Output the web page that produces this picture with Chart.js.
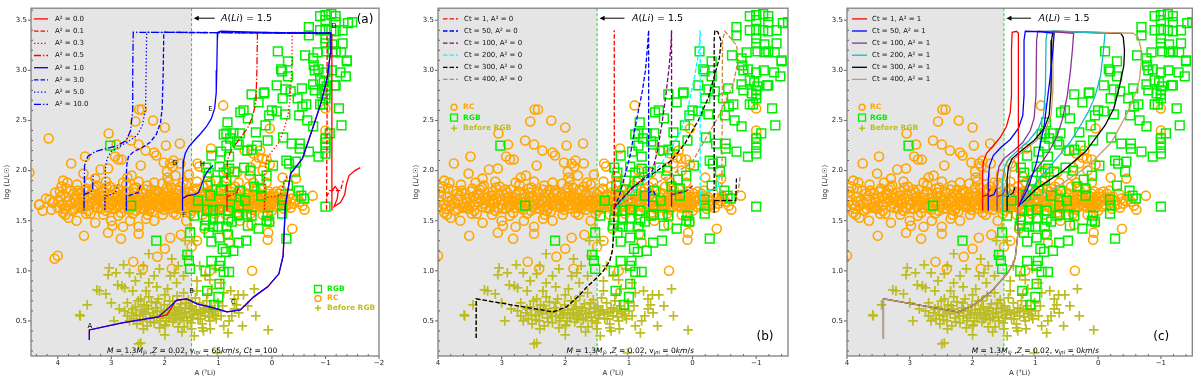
<!DOCTYPE html>
<html>
<head>
  <meta charset="utf-8">
  <title>Li evolution tracks</title>
  <script src="https://cdn.jsdelivr.net/npm/chart.js"></script>
  <style>
    body { margin: 0; background: #fff; }
    #wrap { position: relative; width: 1200px; height: 381px; overflow: hidden; }
    #wrap canvas { position: absolute; top: 0; }
  </style>
</head>
<body>
<div id="wrap">
  <canvas id="pa" width="400" height="381" style="left:0"></canvas>
  <canvas id="pb" width="400" height="381" style="left:400px"></canvas>
  <canvas id="pc" width="400" height="381" style="left:800px"></canvas>
</div>
<script>
// ---- axes ----
const xTicksA = [4, 3, 2, 1, 0, -1, -2];
const xTicksBC = [4, 3, 2, 1, 0, -1];
const yTicks = [0.5, 1.0, 1.5, 2.0, 2.5, 3.0, 3.5];
const liCut = 1.5;
const a2Values = [0.0, 0.1, 0.3, 0.5, 1.0, 3.0, 5.0, 10.0];
const ctValues = [1, 50, 100, 200, 300, 400];

// ---- observed stars: [A(Li), log L] ----
const rcStars = [
  [4.17,2.32],[4.53,1.98],[3.75,2.07],[3.52,1.97],[3.49,2.14],[3.20,2.01],[3.06,2.02],[3.05,2.37],[2.93,2.14],[2.87,2.11],
  [2.90,2.26],[2.81,2.11],[2.62,1.95],[2.63,2.30],[2.55,2.49],[2.48,2.61],[2.43,2.61],[2.49,2.26],[2.45,2.05],[2.36,2.20],
  [2.22,2.50],[2.20,2.18],[2.16,2.15],[2.00,2.43],[1.98,2.25],[2.02,2.08],[1.96,1.99],[1.90,2.07],[1.86,2.04],[1.84,2.10],
  [1.72,2.27],[1.71,2.07],[1.80,1.95],[1.95,1.93],[1.39,2.07],[1.36,2.04],[1.14,2.22],[0.91,2.65],[0.51,2.20],[0.35,2.17],
  [0.30,2.07],[0.22,2.20],[0.18,2.12],[0.17,2.00],[0.04,2.42],[0.04,2.06],[-1.00,2.62],[-1.00,2.40],[-1.00,2.33],[0.85,2.00],
  [0.65,1.98],[0.42,1.95],[-0.20,1.93],[-0.45,1.92],[2.70,1.93],[3.30,1.92],[3.90,1.90],[1.55,1.96],[1.20,1.94],[0.40,2.03],
  [0.25,2.13],[0.10,2.11],
  [4.35,1.66],[4.22,1.72],[4.12,1.61],[4.05,1.78],[3.98,1.69],[3.93,1.84],[3.90,1.58],[3.85,1.74],[3.80,1.65],[3.76,1.80],
  [3.72,1.60],[3.68,1.71],[3.64,1.86],[3.60,1.67],[3.57,1.77],[3.53,1.62],[3.50,1.73],[3.46,1.82],[3.42,1.66],[3.39,1.57],
  [3.35,1.76],[3.32,1.70],[3.28,1.85],[3.25,1.63],[3.21,1.74],[3.18,1.68],[3.14,1.79],[3.10,1.60],[3.07,1.72],[3.03,1.84],
  [3.00,1.66],[2.97,1.76],[2.93,1.62],[2.90,1.70],[2.86,1.81],[2.82,1.58],[2.79,1.73],[2.75,1.67],[2.72,1.86],[2.68,1.63],
  [2.65,1.77],[2.61,1.70],[2.58,1.82],[2.54,1.60],[2.51,1.74],[2.47,1.66],[2.44,1.79],[2.40,1.62],[2.37,1.71],[2.33,1.85],
  [2.30,1.65],[2.26,1.76],[2.23,1.59],[2.19,1.69],[2.16,1.80],[2.12,1.64],[2.09,1.73],[2.05,1.87],[2.02,1.61],[1.98,1.70],
  [1.95,1.78],[1.91,1.66],[1.88,1.83],[1.84,1.58],[1.81,1.72],[1.77,1.64],[1.74,1.80],[1.70,1.69],[1.67,1.61],[1.63,1.75],
  [1.60,1.86],[1.56,1.67],[1.53,1.73],[1.49,1.60],[1.46,1.79],[1.42,1.68],[1.39,1.63],[1.35,1.76],[1.32,1.71],[1.28,1.84],
  [1.25,1.65],[1.21,1.74],[1.18,1.59],[1.14,1.69],[1.11,1.81],[1.07,1.66],[1.04,1.75],[1.00,1.62],[0.96,1.71],[0.93,1.85],
  [0.89,1.67],[0.85,1.77],[0.82,1.60],[0.78,1.72],[0.75,1.82],[0.71,1.65],[0.68,1.74],[0.64,1.58],[0.60,1.69],[0.57,1.79],
  [0.53,1.63],[0.50,1.73],[0.46,1.66],[0.43,1.84],[0.39,1.70],[0.36,1.61],[0.32,1.76],[0.28,1.67],[0.25,1.72],[0.21,1.81],
  [0.18,1.63],[0.14,1.70],[0.10,1.77],[0.07,1.65],[0.03,1.74],[0.00,1.60],[-0.04,1.69],[-0.08,1.79],[-0.12,1.66],[-0.17,1.73],
  [-0.22,1.62],[-0.27,1.70],[-0.33,1.77],[-0.40,1.67],[-0.48,1.74],[-0.57,1.65],
  [4.00,1.63],[3.83,1.69],[3.70,1.77],[3.55,1.68],[3.44,1.74],[3.30,1.64],[3.20,1.70],[3.12,1.67],[2.95,1.69],[2.84,1.66],
  [2.70,1.72],[2.60,1.65],[2.49,1.70],[2.42,1.68],[2.32,1.73],[2.21,1.66],[2.10,1.70],[2.00,1.67],[1.90,1.72],[1.80,1.67],
  [1.72,1.72],[1.62,1.69],[1.51,1.65],[1.44,1.72],[1.33,1.67],[1.23,1.70],[1.13,1.73],[1.02,1.68],[0.91,1.63],[0.80,1.69],
  [0.70,1.70],[0.62,1.65],[0.52,1.68],[0.41,1.73],[0.30,1.64],[0.20,1.69],[0.12,1.66],[0.02,1.70],[-0.10,1.72],[-0.20,1.68],
  [3.95,1.74],[3.62,1.63],[3.37,1.69],[3.05,1.63],[2.77,1.63],[2.55,1.69],[2.28,1.70],[2.07,1.63],[1.86,1.69],[1.65,1.66],
  [1.40,1.66],[1.20,1.63],[0.98,1.67],[0.73,1.67],[0.48,1.69],[0.26,1.71],[0.05,1.67],[4.34,1.66],[4.15,1.71],
  [3.88,1.62],[3.78,1.71],[3.66,1.75],[3.58,1.64],[3.48,1.79],[3.40,1.72],[3.34,1.81],[3.27,1.67],[3.16,1.75],[3.09,1.83],
  [3.01,1.71],[2.91,1.78],[2.88,1.64],[2.80,1.69],[2.73,1.79],[2.66,1.61],[2.63,1.73],[2.56,1.78],[2.52,1.64],[2.45,1.73],
  [2.38,1.65],[2.35,1.81],[2.27,1.62],[2.24,1.72],[2.18,1.77],[2.14,1.67],[2.06,1.76],[2.03,1.69],[1.97,1.65],[1.93,1.74],
  [1.87,1.77],[1.82,1.63],[1.78,1.81],[1.73,1.66],[1.69,1.77],[1.64,1.70],[1.58,1.63],[1.55,1.79],[1.48,1.70],[1.43,1.62],
  [1.37,1.73],[1.31,1.64],[1.27,1.78],[1.22,1.67],[1.16,1.77],[1.09,1.71],[1.05,1.64],[0.99,1.79],[0.94,1.69],[0.87,1.74],
  [0.83,1.66],[0.77,1.79],[0.72,1.62],[0.66,1.77],[0.59,1.73],[0.55,1.66],[0.47,1.77],[0.44,1.62],[0.37,1.67],[0.33,1.82],
  [0.27,1.75],[0.22,1.65],[0.16,1.76],[0.11,1.63],[0.06,1.79],[0.01,1.66],[-0.06,1.74],[-0.14,1.77],[-0.24,1.74],[-0.30,1.66],
  [-0.37,1.72],
  [4.28,1.60],[4.10,1.68],[3.96,1.79],[3.91,1.66],[3.84,1.82],[3.74,1.67],[3.69,1.62],[3.63,1.80],[3.56,1.72],[3.51,1.65],
  [3.43,1.60],[3.38,1.77],[3.31,1.83],[3.24,1.72],[3.19,1.62],[3.13,1.71],[3.06,1.77],[2.99,1.62],[2.94,1.81],[2.89,1.74],
  [2.83,1.70],[2.77,1.76],[2.71,1.65],[2.64,1.68],[2.57,1.73],[2.53,1.83],[2.46,1.62],[2.41,1.77],[2.34,1.69],[2.29,1.60],
  [2.25,1.81],[2.20,1.73],[2.13,1.78],[2.08,1.66],[2.01,1.74],[1.96,1.83],[1.92,1.62],[1.85,1.73],[1.79,1.69],[1.75,1.62],
  [1.71,1.84],[1.66,1.73],[1.61,1.64],[1.57,1.71],[1.50,1.77],[1.45,1.66],[1.41,1.82],[1.36,1.69],[1.29,1.74],[1.24,1.60],
  [1.19,1.79],[1.12,1.65],[1.06,1.81],[1.01,1.71],[0.95,1.64],[0.90,1.76],[0.84,1.70],[0.79,1.64],[0.74,1.74],[0.69,1.84],
  [0.63,1.71],[0.58,1.62],[0.51,1.78],[0.45,1.70],[0.38,1.63],[0.34,1.71],[0.29,1.80],[0.23,1.69],[0.17,1.67],[0.12,1.74],
  [0.08,1.69],[0.04,1.63],[-0.02,1.77],[-0.07,1.64],[-0.15,1.70],[-0.18,1.80],[-0.26,1.65],[-0.35,1.63],[-0.44,1.70],[-0.52,1.69],
  [3.86,1.56],[3.47,1.57],[3.15,1.56],[2.87,1.55],[2.60,1.57],[2.32,1.56],[2.04,1.56],[1.79,1.56],[1.52,1.57],[1.30,1.56],
  [1.06,1.57],[0.86,1.56],[0.62,1.56],[0.40,1.57],[0.17,1.56],
  [3.82,1.88],[3.41,1.88],[3.10,1.89],[2.78,1.88],[2.49,1.89],[2.20,1.88],[1.93,1.89],[1.66,1.88],[1.40,1.89],[1.15,1.88],
  [0.88,1.89],[0.62,1.88],[0.35,1.88],[0.10,1.88],
  [3.51,1.35],[3.06,1.38],[3.00,1.50],[2.98,1.45],[2.82,1.32],[2.78,1.44],[2.49,1.37],[2.49,1.44],[2.59,1.09],[2.41,1.02],
  [4.00,1.15],[4.06,1.12],[2.20,1.50],[2.00,1.22],[1.87,1.02],[2.14,1.14],[1.50,1.24],[1.90,1.33],[1.70,1.36],[1.26,1.42],
  [0.84,1.37],[0.80,1.28],[0.37,1.00],[1.16,1.00],[0.07,1.38],[0.08,1.31],[-0.38,1.42],[-0.61,1.61],[-0.76,1.75],[0.05,1.48],
  [0.38,1.46],[3.65,1.50],[3.30,1.48],[2.65,1.50],[1.60,1.50],[1.10,1.52],[0.60,1.50],[1.40,1.30],[2.35,1.52],[3.80,1.53]
];
const rgbStars = [
  [-0.90,3.54],[-1.00,3.55],[-1.11,3.56],[-1.19,3.54],[-1.00,3.50],[-1.19,3.48],[-1.42,3.47],[-1.50,3.48],[-0.69,3.43],[-0.69,3.35],
  [-0.90,3.40],[-1.00,3.40],[-1.11,3.40],[-1.19,3.39],[-1.32,3.40],[-1.00,3.32],[-1.00,3.27],[-1.13,3.26],[-1.32,3.27],[-0.85,3.18],
  [-1.02,3.19],[-1.13,3.18],[-1.19,3.19],[-1.29,3.18],[-0.77,3.12],[-0.80,3.00],[-0.87,3.01],[-1.00,2.98],[-1.12,3.00],[-1.28,2.98],
  [-1.40,3.09],[-0.90,2.90],[-0.97,2.88],[-1.02,2.84],[-1.19,2.85],[-0.77,2.86],[-0.80,2.80],[-0.93,2.77],[-1.00,2.80],[-1.00,2.76],
  [-1.00,2.72],[-0.95,2.66],[-0.90,2.66],[-0.64,2.66],[-0.56,2.82],[-0.48,2.72],[-0.35,2.79],[-0.09,2.85],[-0.30,3.09],[-0.19,2.99],
  [-0.30,2.94],[-0.11,3.19],[0.15,2.77],[0.25,2.68],[-0.25,2.81],[-0.20,2.72],[-0.57,2.64],[-0.09,2.59],[-0.25,2.56],[-0.51,2.55],
  [-0.66,2.50],[-0.77,2.44],[-0.21,2.33],[-0.37,2.27],[-0.52,2.27],[-0.69,2.19],[-0.52,2.22],[-0.87,2.14],[-1.00,2.17],[-1.00,2.23],
  [-1.00,2.28],[-1.00,2.32],[-1.08,2.37],[-0.27,2.10],[-0.32,2.07],[-0.45,2.09],[-0.43,1.99],[0.23,1.91],[-1.17,2.85],[-1.38,2.94],
  [-1.40,3.10],[-1.25,2.62],[-1.30,2.45],[-0.78,3.05],[-0.62,3.15],
  [0.53,2.60],[0.83,2.48],[0.85,2.37],[0.72,2.37],[0.60,2.37],[0.85,2.25],[0.62,2.26],[0.65,2.29],[0.95,2.19],[0.80,2.14],
  [1.13,2.15],[1.23,2.03],[1.18,1.98],[0.98,2.04],[0.90,1.98],[0.80,2.02],[0.70,1.99],[0.52,2.03],[0.40,2.00],[0.46,2.20],
  [0.38,2.21],[0.90,2.36],[0.78,2.32],[0.28,2.25],[0.08,2.30],[-0.02,2.05],[0.10,1.95],[0.45,2.52],[0.30,2.38],[0.05,2.55],
  [0.38,2.76],[0.59,2.58],[0.14,2.78],[0.00,2.60],[0.12,2.45],[-0.17,3.01],
  [1.21,1.61],[1.10,1.60],[0.98,1.61],[0.82,1.60],[1.23,1.51],[1.10,1.51],[0.98,1.52],[0.82,1.51],[0.75,1.49],[1.25,1.45],
  [1.53,1.38],[1.10,1.44],[1.18,1.38],[1.00,1.44],[0.85,1.44],[1.13,1.29],[0.98,1.33],[0.82,1.36],[0.92,1.22],[0.86,1.19],
  [0.96,1.10],[0.98,1.05],[1.13,1.10],[1.24,1.00],[0.90,0.99],[0.80,0.99],[1.21,0.80],[0.98,0.87],[1.00,0.74],[1.08,0.66],
  [2.16,1.30],[1.55,1.10],[1.53,1.02],[3.02,2.25],[2.63,1.65],[1.58,1.16],
  [0.33,1.84],[0.20,1.82],[-0.19,1.71],[-0.19,1.65],[-0.19,1.57],[0.38,1.55],[0.10,1.50],[0.05,1.49],[0.25,1.42],[-0.27,1.32],
  [-1.00,1.64],[0.62,1.28],[0.62,1.65],[0.50,1.70],[0.75,1.75],[0.95,1.80],[1.15,1.75],[1.20,1.85],[1.05,1.90],[0.85,1.90],
  [0.60,1.80],[-0.30,1.85],[-0.50,1.80],[-0.55,1.75],[-0.60,1.72],[0.20,1.75],[0.65,1.55],[0.45,1.45],[0.48,1.30],[0.72,1.20],
  [0.61,1.56],[0.47,1.56],[0.08,1.55],[1.45,1.55],[1.38,1.70]
];
const preRgbStars = [
  [2.30,1.17],[2.77,1.06],[3.04,1.03],[2.91,0.98],[3.06,0.96],[2.66,0.98],[2.80,0.85],[2.88,0.86],[2.75,0.83],[2.45,0.97],
  [2.30,0.88],[3.27,0.81],[3.22,0.80],[3.10,0.77],[3.45,0.66],[3.59,0.56],[3.58,0.55],[2.49,0.27],[2.45,0.28],[1.53,1.43],
  [1.87,1.12],[1.75,1.05],[1.82,0.98],[1.90,0.95],[1.78,0.88],[1.16,0.91],[0.63,0.76],[0.53,0.76],[0.66,0.66],[0.62,0.58],
  [1.28,0.40],[1.68,0.39],[2.00,0.36],[0.33,0.82],[0.07,0.41],[0.77,0.80],[0.70,0.72],[0.70,0.62],[0.75,0.55],[0.80,0.50],
  [0.82,0.38],[1.02,0.18],[1.45,1.30],[1.60,1.15],[1.35,1.05],[1.25,0.95],[1.05,1.02],[2.10,1.02],[2.20,0.95],[2.55,0.90],
  [2.60,0.80],[2.35,0.80],[2.15,0.84],[1.95,0.82],[2.40,1.05],[1.40,0.90],[1.12,0.82],[0.90,0.78],[0.95,0.88],[1.65,0.95],
  [2.00,0.45],[1.45,0.35],[1.15,0.42],[2.70,0.55],[2.85,0.62],[3.00,0.68],[2.95,0.50],[0.45,0.65],[0.55,0.45],[0.30,0.55],
  [0.90,0.45],[1.62,1.30],
  [2.62,0.58],[2.58,0.52],[2.55,0.64],[2.52,0.47],[2.50,0.70],[2.47,0.55],[2.44,0.61],[2.41,0.50],[2.39,0.66],[2.36,0.57],
  [2.33,0.45],[2.31,0.62],[2.28,0.53],[2.25,0.69],[2.23,0.58],[2.20,0.48],[2.17,0.63],[2.15,0.55],[2.12,0.72],[2.09,0.50],
  [2.07,0.60],[2.04,0.56],[2.01,0.66],[1.99,0.46],[1.96,0.61],[1.93,0.53],[1.91,0.70],[1.88,0.58],[1.85,0.49],[1.83,0.64],
  [1.80,0.55],[1.77,0.75],[1.75,0.60],[1.72,0.51],[1.70,0.67],[1.67,0.57],[1.64,0.44],[1.62,0.62],[1.59,0.54],[1.56,0.71],
  [1.54,0.59],[1.51,0.48],[1.49,0.65],[1.46,0.56],[1.43,0.73],[1.41,0.61],[1.38,0.52],[1.35,0.68],[1.33,0.58],[1.30,0.47],
  [1.28,0.63],[1.25,0.55],[1.22,0.70],[1.19,0.60],[1.16,0.50],[1.13,0.65],[1.10,0.57],[1.07,0.62],[1.04,0.52],[1.01,0.68],
  [2.60,0.62],[2.53,0.56],[2.46,0.51],[2.40,0.59],[2.34,0.65],[2.27,0.49],[2.21,0.55],[2.14,0.60],[2.08,0.53],[2.02,0.58],
  [1.97,0.50],[1.92,0.56],[1.87,0.62],[1.82,0.52],[1.78,0.57],[1.73,0.63],[1.68,0.53],[1.63,0.58],[1.58,0.50],[1.53,0.63],
  [1.48,0.53],[1.44,0.60],[1.39,0.57],[1.34,0.52],[1.29,0.59],[1.24,0.62],[1.18,0.54],[1.12,0.59],[1.06,0.55],
  [2.75,0.60],[2.70,0.68],[2.66,0.50],[2.30,0.74],[2.00,0.76],[1.65,0.78],[1.40,0.80],[1.20,0.77],[1.60,0.68],[1.85,0.70],
  [2.15,0.68],[2.45,0.72],[1.50,0.42],[1.75,0.44],[2.10,0.43],[2.40,0.42],[1.30,0.43],[1.00,0.60],[0.95,0.55],[0.92,0.65]
];

// ---- panel (a): Ct = 100, varying A^2 ----
const preBlueA = [[3.41,0.31],[3.41,0.41],[2.80,0.48],[2.12,0.54],[1.95,0.62],[1.77,0.71],[1.59,0.72],[1.40,0.67],[1.09,0.63],[0.84,0.59],[0.59,0.61],[0.34,0.74],[0.08,0.84],[-0.13,0.97],[-0.21,1.15],[-0.23,1.40],[-0.25,1.65],[-0.35,1.97],[-0.57,2.12],[-0.76,2.42],[-0.92,2.68],[-1.04,2.94],[-1.09,3.17],[-1.10,3.37]];
const preRedA = [[3.41,0.31],[3.41,0.41],[2.80,0.48],[2.12,0.54],[1.96,0.56],[1.80,0.70],[1.59,0.72],[1.40,0.67],[1.09,0.63],[0.84,0.59],[0.59,0.61],[0.34,0.74],[0.08,0.84],[-0.13,0.97],[-0.21,1.15],[-0.23,1.40],[-0.25,1.65],[-0.35,1.97],[-0.57,2.12],[-0.76,2.42],[-0.92,2.68],[-1.04,2.94],[-1.09,3.17],[-1.10,3.37]];
const a2Track00 = [[-1.12,3.36],[-1.12,1.60],[-1.12,1.80],[-1.18,1.84],[-1.24,1.80],[-1.22,1.72],[-1.16,1.64],[-1.28,1.68],[-1.36,1.76],[-1.39,1.86],[-1.44,1.95],[-1.55,2.00],[-1.65,2.03]];
const a2Track01 = [[-1.10,3.37],[-1.03,3.37],[-1.03,2.60],[-1.02,1.60],[-1.02,1.74],[-1.08,1.80],[-1.18,1.80],[-1.28,1.80],[-1.33,1.90]];
const a2Track03 = [[-1.10,3.37],[-0.38,3.38],[-0.37,3.00],[-0.34,2.72],[-0.30,2.55],[-0.22,2.40],[-0.12,2.27],[0.00,2.19],[0.08,2.13],[0.12,2.03],[0.14,1.90],[0.14,1.60],[0.14,1.72],[0.04,1.74],[-0.08,1.74],[-0.16,1.76],[-0.20,1.84],[-0.28,1.95]];
const a2Track05 = [[-1.10,3.37],[0.27,3.38],[0.28,3.00],[0.30,2.68],[0.36,2.54],[0.45,2.43],[0.58,2.33],[0.70,2.25],[0.78,2.18],[0.83,2.10],[0.84,1.95],[0.84,1.60],[0.84,1.74],[0.74,1.76],[0.65,1.78],[0.62,1.86]];
const a2Track10 = [[-1.10,3.37],[0.00,3.375],[0.95,3.39],[1.01,3.38],[1.02,3.30],[1.03,3.00],[1.04,2.78],[1.07,2.62],[1.13,2.52],[1.22,2.44],[1.33,2.37],[1.45,2.30],[1.55,2.24],[1.62,2.17],[1.65,2.10],[1.66,2.00],[1.67,1.85],[1.67,1.60],[1.67,1.72],[1.58,1.75],[1.45,1.76],[1.37,1.78],[1.32,1.85],[1.26,1.94],[1.18,2.01],[1.10,2.05]];
const a2Track30 = [[-1.10,3.37],[2.02,3.38],[2.03,3.00],[2.05,2.62],[2.08,2.48],[2.16,2.36],[2.28,2.28],[2.42,2.23],[2.58,2.19],[2.68,2.14],[2.71,2.06],[2.72,1.95],[2.72,1.60],[2.72,1.74],[2.62,1.76],[2.50,1.78],[2.45,1.86]];
const a2Track50 = [[-1.10,3.37],[2.34,3.38],[2.35,3.00],[2.36,2.62],[2.42,2.45],[2.52,2.35],[2.68,2.29],[2.85,2.24],[3.00,2.19],[3.08,2.12],[3.11,2.02],[3.12,1.60],[3.12,1.74],[3.02,1.76],[2.92,1.78],[2.88,1.86]];
const a2Track100 = [[-1.10,3.37],[2.59,3.38],[2.60,3.00],[2.60,2.60],[2.64,2.40],[2.72,2.30],[2.88,2.25],[3.10,2.22],[3.30,2.19],[3.44,2.14],[3.50,2.05],[3.51,1.60],[3.51,1.76],[3.42,1.78],[3.35,1.80],[3.34,1.95]];

// ---- panel (b): A^2 = 0, varying Ct ----
const preB = [[3.40,0.33],[3.40,0.72],[2.19,0.59],[1.98,0.64],[1.80,0.74],[1.66,0.84],[1.52,0.92],[1.40,1.00],[1.30,1.10],[1.26,1.20],[1.24,1.36],[1.23,1.63]];
const ct1B = [[1.23,1.63],[1.23,3.40]];
const ct50B = [[1.23,1.63],[1.15,1.75],[1.08,1.91],[0.98,2.15],[0.92,2.37],[0.85,2.60],[0.79,2.79],[0.74,3.00],[0.71,3.22],[0.69,3.40],[0.69,1.64],[0.69,1.78],[0.62,1.80],[0.58,1.75]];
const ct100B = [[1.23,1.63],[1.05,1.76],[0.85,1.88],[0.63,2.00],[0.55,2.20],[0.48,2.47],[0.42,2.75],[0.37,3.02],[0.34,3.25],[0.33,3.40],[0.33,1.64],[0.33,1.76],[0.20,1.78],[0.08,1.80],[0.00,1.85]];
const ct200B = [[1.23,1.63],[1.00,1.75],[0.72,1.92],[0.50,2.06],[0.33,2.23],[0.18,2.40],[0.08,2.60],[-0.04,2.96],[-0.10,3.20],[-0.12,3.40],[-0.12,1.64],[-0.12,1.78],[-0.25,1.80],[-0.40,1.82],[-0.42,1.95]];
const ct300B = [[1.23,1.63],[0.93,1.84],[0.60,1.98],[0.33,2.10],[0.12,2.27],[-0.09,2.50],[-0.25,2.73],[-0.35,2.96],[-0.42,3.12],[-0.45,3.29],[-0.40,3.38],[-0.35,3.40],[-0.34,3.30],[-0.34,1.58],[-0.34,1.70],[-0.50,1.70],[-0.68,1.70],[-0.69,1.92]];
const ct400B = [[1.23,1.63],[0.85,1.76],[0.45,1.92],[0.02,2.07],[-0.19,2.30],[-0.40,2.53],[-0.64,2.86],[-0.72,3.12],[-0.69,3.25],[-0.51,3.39],[-0.47,3.30],[-0.46,1.62],[-0.46,1.75],[-0.58,1.77],[-0.72,1.80],[-0.75,1.95]];

// ---- panel (c): A^2 = 1, varying Ct ----
const preC = [[3.42,0.32],[3.42,0.72],[2.23,0.59],[2.03,0.64],[1.85,0.72],[1.71,0.79],[1.58,0.88],[1.45,0.97],[1.36,1.06],[1.32,1.13],[1.28,1.36],[1.27,1.64]];
const ct1C = [[1.27,1.64],[1.27,3.37],[1.30,3.39],[1.37,3.38],[1.38,3.20],[1.38,2.75],[1.40,2.58],[1.46,2.44],[1.56,2.33],[1.68,2.24],[1.78,2.17],[1.83,2.08],[1.84,1.95],[1.84,1.60],[1.84,1.74],[1.76,1.76],[1.72,1.82]];
const ct50C = [[1.27,1.64],[1.12,1.82],[0.98,2.08],[0.86,2.45],[0.77,2.90],[0.72,3.20],[0.70,3.37],[0.90,3.385],[1.16,3.39],[1.18,3.30],[1.18,2.75],[1.20,2.55],[1.27,2.42],[1.40,2.31],[1.55,2.23],[1.67,2.15],[1.73,2.05],[1.75,1.90],[1.75,1.60],[1.75,1.74],[1.66,1.76],[1.62,1.82]];
const ct100C = [[1.27,1.64],[1.09,1.93],[0.90,2.08],[0.78,2.19],[0.65,2.35],[0.57,2.51],[0.49,2.75],[0.44,3.00],[0.41,3.20],[0.39,3.37],[0.70,3.385],[0.96,3.39],[0.98,3.30],[0.99,2.75],[1.02,2.52],[1.08,2.40],[1.20,2.28],[1.36,2.19],[1.50,2.12],[1.58,2.04],[1.61,1.92],[1.61,1.60],[1.61,1.74],[1.52,1.76],[1.48,1.82]];
const ct200C = [[1.27,1.64],[0.98,1.89],[0.80,2.02],[0.62,2.15],[0.45,2.28],[0.31,2.42],[0.16,2.58],[0.05,2.74],[-0.04,2.95],[-0.08,3.17],[-0.11,3.37],[0.40,3.385],[0.81,3.39],[0.83,3.30],[0.84,2.80],[0.87,2.55],[0.95,2.42],[1.10,2.30],[1.28,2.20],[1.42,2.12],[1.49,2.03],[1.52,1.92],[1.52,1.60],[1.52,1.74],[1.43,1.76],[1.40,1.82]];
const ct300C = [[1.27,1.64],[0.98,1.82],[0.57,1.99],[0.20,2.19],[-0.11,2.45],[-0.25,2.62],[-0.34,2.84],[-0.41,3.05],[-0.42,3.20],[-0.40,3.33],[-0.36,3.37],[0.20,3.38],[0.72,3.39],[0.74,3.30],[0.75,2.80],[0.78,2.55],[0.86,2.42],[1.02,2.30],[1.22,2.20],[1.37,2.12],[1.43,2.03],[1.45,1.92],[1.45,1.60],[1.45,1.74],[1.36,1.77],[1.32,1.84]];
const ct400C = [[1.27,1.64],[0.62,1.85],[0.15,2.05],[-0.21,2.28],[-0.47,2.58],[-0.60,2.78],[-0.66,2.91],[-0.69,3.10],[-0.68,3.22],[-0.64,3.33],[-0.56,3.37],[0.10,3.38],[0.70,3.39],[0.72,3.30],[0.72,2.80],[0.75,2.55],[0.83,2.42],[0.98,2.30],[1.18,2.20],[1.33,2.12],[1.39,2.03],[1.41,1.92],[1.41,1.60],[1.41,1.74],[1.33,1.77],[1.30,1.84]];

// ---- styling ----
const FONT = 'DejaVu Sans';
const ORANGE = '#ffa500', LIME = '#00ee00', OLIVE = '#bcbd22';
const dashes = { solid: [], dashed: [4.5, 2], dotted: [1.3, 2.2], dashdot: [7, 2, 1.3, 2] };
const ctColorsB = ['#ff0000', '#0000ff', '#800080', '#00ffff', '#000000', '#cd853f'];
const ctColorsC = ['#ff0000', '#0000ff', '#883399', '#17b8c8', '#000000', '#c89b6d'];

Chart.defaults.font.family = FONT;
Chart.defaults.font.size = 7;
Chart.defaults.color = '#222';

function lineSet(data, color, dash, order) {
  return { type: 'scatter', data, showLine: true, pointRadius: 0, borderColor: color,
    borderWidth: 1.3, borderDash: dashes[dash], tension: 0, fill: false, order };
}

function starSets() {
  return [
    { type: 'scatter', data: rcStars, pointStyle: 'circle', pointRadius: 4.5, pointBorderWidth: 1.6,
      pointBorderColor: ORANGE, pointBackgroundColor: 'rgba(0,0,0,0)', order: 30 },
    { type: 'scatter', data: preRgbStars, pointStyle: 'cross', pointRadius: 4.8, pointBorderWidth: 1.7,
      pointBorderColor: OLIVE, pointBackgroundColor: OLIVE, order: 20 },
    { type: 'scatter', data: rgbStars, pointStyle: 'rect', pointRadius: 6.2, pointBorderWidth: 1.5,
      pointBorderColor: LIME, pointBackgroundColor: 'rgba(0,0,0,0)', order: 10 }
  ];
}

function drawRich(ctx, parts, x, y, size, align) {
  const fontFor = st => {
    const s = (st === 'sub' || st === 'sup') ? size * 0.7 : size;
    const it = (st === 'i' || st === 'sub') ? 'italic ' : '';
    return `${it}${s}px "${FONT}"`;
  };
  let w = 0;
  parts.forEach(([t, st]) => { ctx.font = fontFor(st); w += ctx.measureText(t).width; });
  let cx = align === 'center' ? x - w / 2 : x;
  ctx.textAlign = 'left';
  ctx.textBaseline = 'alphabetic';
  parts.forEach(([t, st]) => {
    ctx.font = fontFor(st);
    const dy = st === 'sub' ? size * 0.25 : st === 'sup' ? -size * 0.4 : 0;
    ctx.fillText(t, cx, y + dy);
    cx += ctx.measureText(t).width;
  });
}

function drawMarker(ctx, kind, x, y) {
  ctx.beginPath();
  if (kind === 'rc') { ctx.strokeStyle = ORANGE; ctx.lineWidth = 1.4; ctx.arc(x, y, 3, 0, Math.PI * 2); }
  else if (kind === 'rgb') { ctx.strokeStyle = LIME; ctx.lineWidth = 1.3; ctx.rect(x - 3.5, y - 3.5, 7, 7); }
  else { ctx.strokeStyle = OLIVE; ctx.lineWidth = 1.5; ctx.moveTo(x - 3, y); ctx.lineTo(x + 3, y); ctx.moveTo(x, y - 3); ctx.lineTo(x, y + 3); }
  ctx.stroke();
}

const starLabels = { rc: ['RC', ORANGE], rgb: ['RGB', LIME], pre: ['Before RGB', OLIVE] };

function decoPlugin(cfg) {
  return {
    id: 'deco',
    beforeDatasetsDraw(chart) {
      const { ctx, chartArea: a, scales: { x } } = chart;
      const xc = x.getPixelForValue(liCut);
      ctx.save();
      ctx.fillStyle = '#e5e5e5';
      ctx.fillRect(a.left, a.top, xc - a.left, a.bottom - a.top);
      ctx.strokeStyle = '#2ecc2e';
      ctx.lineWidth = 1;
      ctx.setLineDash([3, 2]);
      ctx.beginPath(); ctx.moveTo(xc, a.top); ctx.lineTo(xc, a.bottom); ctx.stroke();
      ctx.restore();
    },
    afterDatasetsDraw(chart) {
      const { ctx, chartArea: a, scales: { x, y } } = chart;
      ctx.save();
      // ticks
      ctx.strokeStyle = '#333';
      ctx.lineWidth = 0.8;
      ctx.beginPath();
      cfg.xTicks.forEach(v => { const p = x.getPixelForValue(v); ctx.moveTo(p, a.bottom); ctx.lineTo(p, a.bottom + 3); });
      yTicks.forEach(v => { const p = y.getPixelForValue(v); ctx.moveTo(a.left, p); ctx.lineTo(a.left - 3, p); });
      for (let k = Math.ceil(x.min * 5); k <= Math.floor(x.max * 5); k++) {
        if (k % 5 === 0) continue;
        const p = x.getPixelForValue(k / 5); ctx.moveTo(p, a.bottom); ctx.lineTo(p, a.bottom - 2);
      }
      for (let k = Math.ceil(y.min * 10); k <= Math.floor(y.max * 10); k++) {
        if (k % 5 === 0) continue;
        const p = y.getPixelForValue(k / 10); ctx.moveTo(a.left, p); ctx.lineTo(a.left + 2, p);
      }
      ctx.stroke();
      // frame
      ctx.strokeStyle = '#808080';
      ctx.lineWidth = 1.3;
      ctx.strokeRect(a.left, a.top, a.right - a.left, a.bottom - a.top);

      // arrow and A(Li) = 1.5
      ctx.fillStyle = '#000';
      ctx.strokeStyle = '#000';
      ctx.lineWidth = 1;
      const ay = a.top + 10;
      const ax0 = x.getPixelForValue(1.07), ax1 = x.getPixelForValue(1.46);
      ctx.beginPath(); ctx.moveTo(ax0, ay); ctx.lineTo(ax1 + 3, ay); ctx.stroke();
      ctx.beginPath(); ctx.moveTo(ax1, ay); ctx.lineTo(ax1 + 5, ay - 2.5); ctx.lineTo(ax1 + 5, ay + 2.5); ctx.closePath(); ctx.fill();
      drawRich(ctx, [['A', 'i'], ['(', 'n'], ['Li', 'i'], [') = 1.5', 'n']], x.getPixelForValue(0.95), a.top + 13, 9.5, 'left');

      // bottom note
      drawRich(ctx, cfg.note, x.getPixelForValue(cfg.noteAt), a.bottom - 3.5, 7.5, 'center');

      // panel tag
      ctx.font = `12px "${FONT}"`;
      ctx.textAlign = 'center';
      ctx.textBaseline = 'middle';
      ctx.fillStyle = '#000';
      if (cfg.tagTop) ctx.fillText(cfg.tag, a.right - 14, a.top + 12);
      else ctx.fillText(cfg.tag, a.right - cfg.tagDx, a.bottom - 19);

      // track letters
      ctx.font = `7px "${FONT}"`;
      (cfg.letters || []).forEach(([t, lx, ly]) => ctx.fillText(t, x.getPixelForValue(lx), y.getPixelForValue(ly)));

      // line legend
      const L = cfg.lineLegend;
      L.items.forEach((it, i) => {
        const ry = a.top + L.y0 + i * L.dy;
        ctx.strokeStyle = it.color;
        ctx.lineWidth = 1.3;
        ctx.setLineDash(dashes[it.dash]);
        ctx.beginPath(); ctx.moveTo(a.left + L.x0, ry); ctx.lineTo(a.left + L.x1, ry); ctx.stroke();
        ctx.setLineDash([]);
        ctx.fillStyle = '#111';
        ctx.font = `7px "${FONT}"`;
        ctx.textAlign = 'left';
        ctx.textBaseline = 'middle';
        ctx.fillText(it.label, a.left + L.tx, ry);
      });

      // star legend
      const S = cfg.starLegend;
      S.order.forEach((k, i) => {
        const mx = S.fromRight ? a.right - S.mx : a.left + S.mx;
        const tx = S.fromRight ? a.right - S.tx : a.left + S.tx;
        const ry = S.fromBottom ? a.bottom - S.y0 + i * S.dy : a.top + S.y0 + i * S.dy;
        drawMarker(ctx, k, mx, ry);
        ctx.fillStyle = starLabels[k][1];
        ctx.font = `bold 7.5px "${FONT}"`;
        ctx.textAlign = 'left';
        ctx.textBaseline = 'middle';
        ctx.fillText(starLabels[k][0], tx, ry);
      });
      ctx.restore();
    }
  };
}

function buildPanel(cfg) {
  const fmtX = v => (v < 0 ? '\u2212' + Math.abs(v) : String(v));
  new Chart(document.getElementById(cfg.id), {
    type: 'scatter',
    data: { datasets: starSets().concat(cfg.tracks) },
    options: {
      responsive: false,
      animation: false,
      devicePixelRatio: 1,
      events: [],
      layout: { padding: cfg.pad },
      plugins: { legend: { display: false }, tooltip: { enabled: false } },
      scales: {
        x: {
          type: 'linear', reverse: true, min: cfg.xMin, max: cfg.xMax,
          grid: { display: false, drawTicks: false }, border: { display: false },
          afterBuildTicks: s => { s.ticks = cfg.xTicks.map(v => ({ value: v })); },
          afterFit: s => { s.height = 25; },
          ticks: { autoSkip: false, maxRotation: 0, padding: 3, callback: v => fmtX(v) },
          title: { display: true, text: 'A (\u2077Li)', font: { size: 7 }, padding: { top: 0, bottom: 3.5 } }
        },
        y: {
          type: 'linear', min: 0.15, max: 3.62,
          grid: { display: false, drawTicks: false }, border: { display: false },
          afterBuildTicks: s => { s.ticks = yTicks.map(v => ({ value: v })); },
          afterFit: s => { s.width = cfg.yW; },
          ticks: { padding: 4, callback: v => v.toFixed(1) },
          title: { display: true, text: 'log (L/L\u2609)', font: { size: 7 }, padding: { top: 0, bottom: 0 } }
        }
      }
    },
    plugins: [decoPlugin(cfg)]
  });
}

const a2Dash = ['solid', 'dashed', 'dotted', 'dashdot', 'solid', 'dashed', 'dotted', 'dashdot'];
const a2Color = ['#ff0000', '#ff0000', '#ff0000', '#ff0000', '#0000ff', '#0000ff', '#0000ff', '#0000ff'];

buildPanel({
  id: 'pa', xMin: -2, xMax: 4.5, xTicks: xTicksA, yW: 28,
  pad: { left: 3, right: 21, top: 5, bottom: 0 },
  tracks: [
    lineSet(preRedA.concat(a2Track00), '#ff0000', 'solid', 8),
    lineSet(a2Track01, '#ff0000', 'dashed', 7),
    lineSet(a2Track03, '#ff0000', 'dotted', 6),
    lineSet(a2Track05, '#ff0000', 'dashdot', 5),
    lineSet(a2Track30, '#0000ff', 'dashed', 4),
    lineSet(a2Track50, '#0000ff', 'dotted', 3),
    lineSet(a2Track100, '#0000ff', 'dashdot', 2),
    lineSet(preBlueA.concat(a2Track10), '#0000ff', 'solid', 1)
  ],
  note: [['M', 'i'], [' = 1.3', 'n'], ['M', 'i'], ['\u2299', 'sub'], [' ,', 'n'], ['Z', 'i'], [' = 0.02, v', 'n'], ['ini', 'sub'],
         [' = 65', 'n'], ['km', 'i'], ['/', 'n'], ['s', 'i'], [', ', 'n'], ['Ct', 'i'], [' = 100', 'n']],
  noteAt: 1.49, tag: '(a)', tagTop: true,
  letters: [['A', 3.40, 0.45], ['B', 1.50, 0.80], ['C', 0.72, 0.69], ['D', -1.16, 3.44], ['E', 1.15, 2.61],
            ['F', 1.64, 1.55], ['G', 1.81, 2.07], ['H', 1.30, 2.06]],
  lineLegend: { x0: 3, x1: 17, tx: 24, y0: 10.7, dy: 12.2,
    items: a2Values.map((v, i) => ({ label: 'A\u00b2 = ' + v.toFixed(1), color: a2Color[i], dash: a2Dash[i] })) },
  starLegend: { order: ['rgb', 'rc', 'pre'], fromRight: true, mx: 61, tx: 52, fromBottom: true, y0: 67, dy: 9.5 }
});

const noteBC = [['M', 'i'], [' = 1.3', 'n'], ['M', 'i'], ['\u2299', 'sub'], [' ,', 'n'], ['Z', 'i'], [' = 0.02, v', 'n'], ['ini', 'sub'],
                [' = 0', 'n'], ['km', 'i'], ['/', 'n'], ['s', 'i']];

buildPanel({
  id: 'pb', xMin: -1.5, xMax: 4, xTicks: xTicksBC, yW: 26,
  pad: { left: 12, right: 12, top: 5, bottom: 0 },
  tracks: [
    lineSet(preB.concat(ct400B), ctColorsB[5], 'dashed', 6),
    lineSet(preB.concat(ct300B), ctColorsB[4], 'dashed', 5),
    lineSet(ct200B, ctColorsB[3], 'dashed', 4),
    lineSet(ct100B, ctColorsB[2], 'dashed', 3),
    lineSet(ct50B, ctColorsB[1], 'dashed', 2),
    lineSet(ct1B, ctColorsB[0], 'dashed', 1)
  ],
  note: noteBC, noteAt: 0.98, tag: '(b)', tagTop: false, tagDx: 23,
  lineLegend: { x0: 5, x1: 20, tx: 26, y0: 10.7, dy: 12.1,
    items: ctValues.map((v, i) => ({ label: 'Ct = ' + v + ', A\u00b2 = 0', color: ctColorsB[i], dash: 'dashed' })) },
  starLegend: { order: ['rc', 'rgb', 'pre'], fromRight: false, mx: 16, tx: 25, fromBottom: false, y0: 99, dy: 10.5 }
});

buildPanel({
  id: 'pc', xMin: -1.5, xMax: 4, xTicks: xTicksBC, yW: 26,
  pad: { left: 21, right: 1, top: 5, bottom: 0 },
  tracks: [
    lineSet(preC.concat(ct300C), ctColorsC[4], 'solid', 6),
    lineSet(preC.concat(ct400C), ctColorsC[5], 'solid', 5),
    lineSet(ct200C, ctColorsC[3], 'solid', 4),
    lineSet(ct100C, ctColorsC[2], 'solid', 3),
    lineSet(ct50C, ctColorsC[1], 'solid', 2),
    lineSet(ct1C, ctColorsC[0], 'solid', 1)
  ],
  note: noteBC, noteAt: 1.0, tag: '(c)', tagTop: false, tagDx: 31,
  lineLegend: { x0: 5, x1: 20, tx: 25, y0: 10.7, dy: 12.1,
    items: ctValues.map((v, i) => ({ label: 'Ct = ' + v + ', A\u00b2 = 1', color: ctColorsC[i], dash: 'solid' })) },
  starLegend: { order: ['rc', 'rgb', 'pre'], fromRight: false, mx: 15, tx: 23, fromBottom: false, y0: 99, dy: 10.5 }
});
</script>
</body>
</html>
